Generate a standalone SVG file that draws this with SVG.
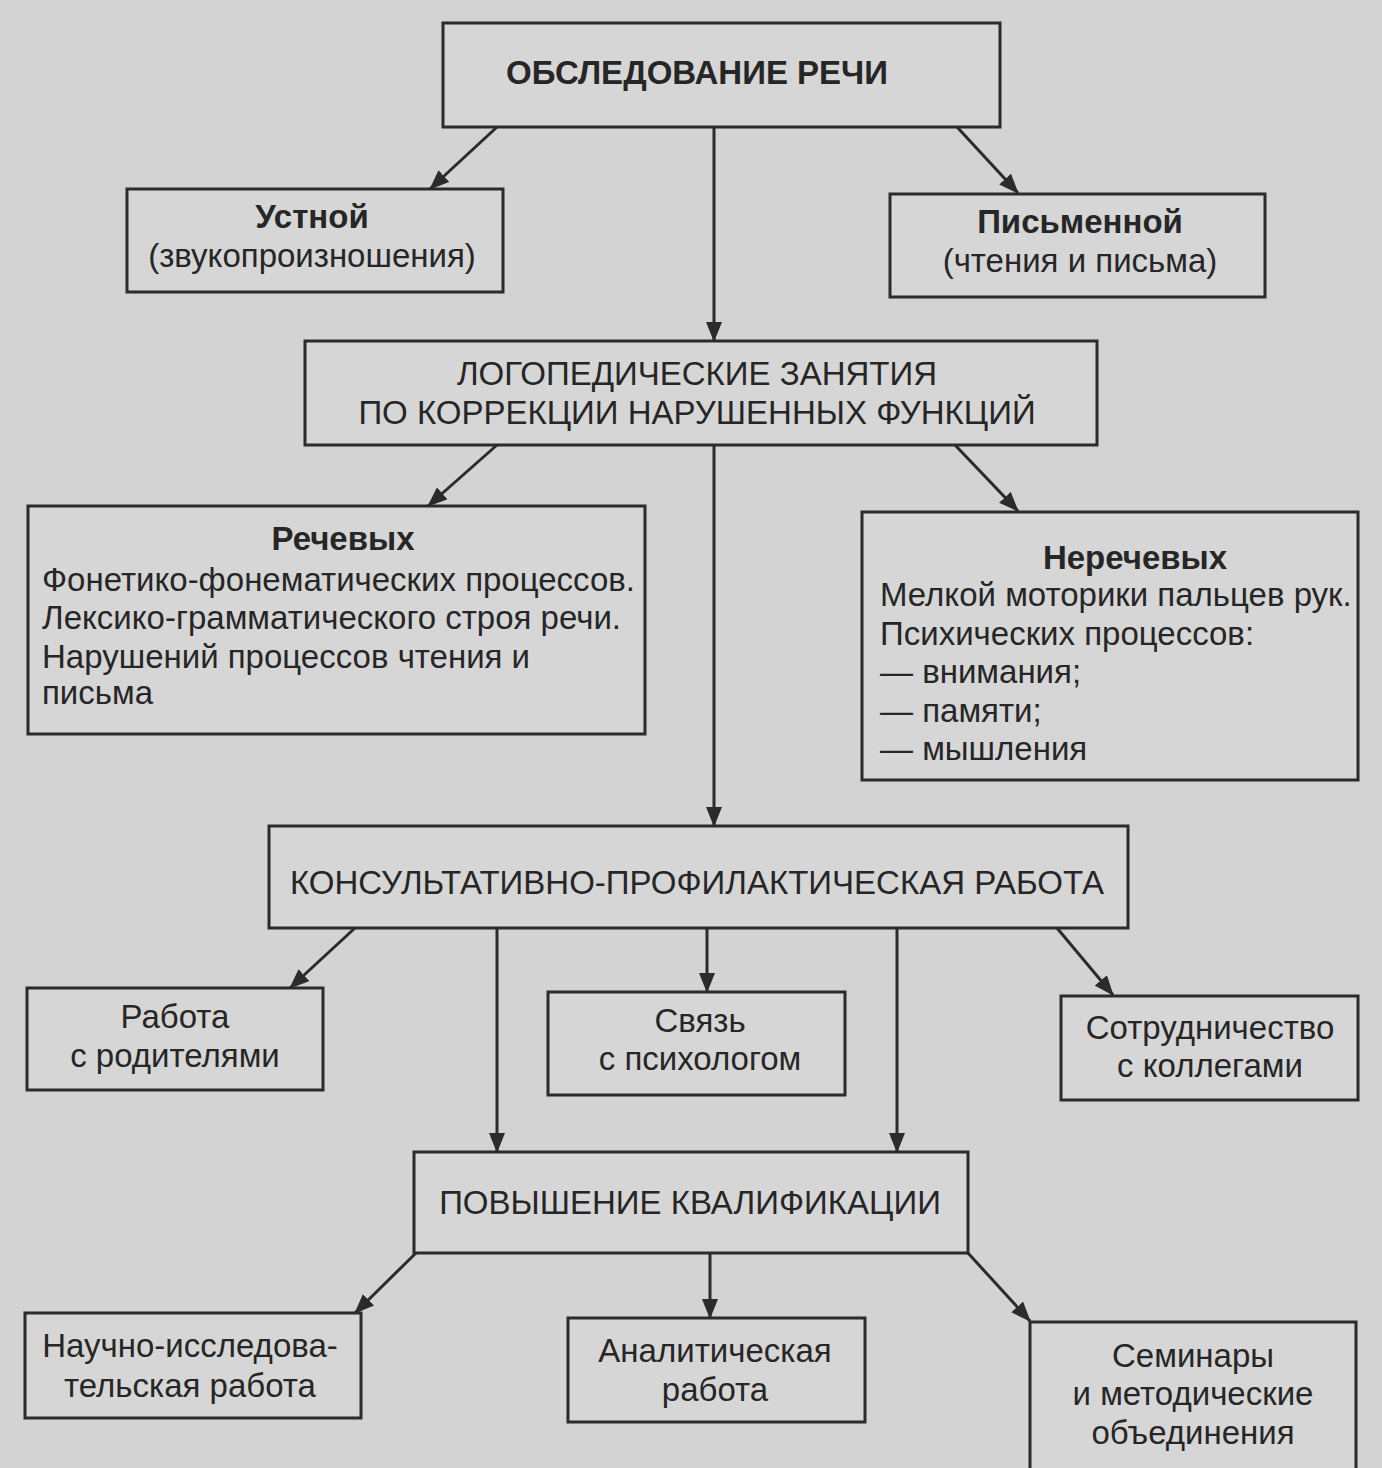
<svg xmlns="http://www.w3.org/2000/svg" width="1382" height="1468" viewBox="0 0 1382 1468">
<style>
.bg{fill:#d3d3d3}
.box{fill:#d6d6d6;stroke:#2b2b2b;stroke-width:3}
text{font-family:"Liberation Sans",Arial,sans-serif;font-size:33px;fill:#262626}
.c{text-anchor:middle}
.b{font-weight:bold}
.conn line{stroke:#2b2b2b;stroke-width:3}
</style>
<defs>
<marker id="ah" viewBox="0 0 20 16" refX="19" refY="8" markerWidth="20" markerHeight="16" markerUnits="userSpaceOnUse" orient="auto">
<path d="M0,0 L20,8 L0,16 Z" fill="#2b2b2b"/>
</marker>
</defs>
<rect class="bg" x="0" y="0" width="1382" height="1468"/>

<g id="n-obsl"><rect class="box" x="443" y="23" width="557" height="104"/><text class="c b" x="697" y="84">ОБСЛЕДОВАНИЕ РЕЧИ</text></g>
<g id="n-ustnoy"><rect class="box" x="127" y="189" width="376" height="103"/><text class="c b" x="312" y="228">Устной</text><text class="c" x="312" y="267">(звукопроизношения)</text></g>
<g id="n-pismennoy"><rect class="box" x="890" y="194" width="375" height="103"/><text class="c b" x="1080" y="233">Письменной</text><text class="c" x="1080" y="272">(чтения и письма)</text></g>
<g id="n-logoped"><rect class="box" x="305" y="341" width="792" height="104"/><text class="c" x="697" y="385">ЛОГОПЕДИЧЕСКИЕ ЗАНЯТИЯ</text><text class="c" x="697" y="424">ПО КОРРЕКЦИИ НАРУШЕННЫХ ФУНКЦИЙ</text></g>
<g id="n-rechevyh"><rect class="box" x="28" y="506" width="617" height="228"/><text class="c b" x="343" y="550">Речевых</text><text x="42" y="591">Фонетико-фонематических процессов.</text><text x="42" y="629">Лексико-грамматического строя речи.</text><text x="42" y="668">Нарушений процессов чтения и</text><text x="42" y="704">письма</text></g>
<g id="n-nerechevyh"><rect class="box" x="862" y="512" width="496" height="268"/><text class="c b" x="1135" y="569">Неречевых</text><text x="880" y="606">Мелкой моторики пальцев рук.</text><text x="880" y="645">Психических процессов:</text><text x="880" y="683">— внимания;</text><text x="880" y="722">— памяти;</text><text x="880" y="760">— мышления</text></g>
<g id="n-konsult"><rect class="box" x="269" y="826" width="859" height="102"/><text class="c" x="697" y="894">КОНСУЛЬТАТИВНО-ПРОФИЛАКТИЧЕСКАЯ РАБОТА</text></g>
<g id="n-roditeli"><rect class="box" x="27" y="988" width="296" height="102"/><text class="c" x="175" y="1028">Работа</text><text class="c" x="175" y="1067">с родителями</text></g>
<g id="n-psiholog"><rect class="box" x="548" y="992" width="297" height="103"/><text class="c" x="700" y="1032">Связь</text><text class="c" x="700" y="1070">с психологом</text></g>
<g id="n-kollegi"><rect class="box" x="1061" y="996" width="297" height="104"/><text class="c" x="1210" y="1039">Сотрудничество</text><text class="c" x="1210" y="1077">с коллегами</text></g>
<g id="n-povyshenie"><rect class="box" x="414" y="1152" width="554" height="101"/><text class="c" x="690" y="1214">ПОВЫШЕНИЕ КВАЛИФИКАЦИИ</text></g>
<g id="n-nauchno"><rect class="box" x="25" y="1313" width="336" height="105"/><text class="c" x="190" y="1357">Научно-исследова-</text><text class="c" x="190" y="1397">тельская работа</text></g>
<g id="n-analit"><rect class="box" x="568" y="1318" width="297" height="104"/><text class="c" x="715" y="1362">Аналитическая</text><text class="c" x="715" y="1401">работа</text></g>
<g id="n-seminary"><rect class="box" x="1030" y="1322" width="326" height="150"/><text class="c" x="1193" y="1367">Семинары</text><text class="c" x="1193" y="1405">и методические</text><text class="c" x="1193" y="1444">объединения</text></g>

<g class="conn">
<line x1="497" y1="127" x2="430" y2="189" marker-end="url(#ah)"/>
<line x1="957" y1="127" x2="1018" y2="193" marker-end="url(#ah)"/>
<line x1="714" y1="127" x2="714" y2="341" marker-end="url(#ah)"/>
<line x1="497" y1="445" x2="428" y2="506" marker-end="url(#ah)"/>
<line x1="955" y1="445" x2="1018" y2="511" marker-end="url(#ah)"/>
<line x1="714" y1="445" x2="714" y2="826" marker-end="url(#ah)"/>
<line x1="355" y1="928" x2="290" y2="988" marker-end="url(#ah)"/>
<line x1="707" y1="928" x2="707" y2="992" marker-end="url(#ah)"/>
<line x1="1057" y1="928" x2="1113" y2="995" marker-end="url(#ah)"/>
<line x1="497" y1="928" x2="497" y2="1152" marker-end="url(#ah)"/>
<line x1="897" y1="928" x2="897" y2="1152" marker-end="url(#ah)"/>
<line x1="416" y1="1253" x2="355" y2="1313" marker-end="url(#ah)"/>
<line x1="710" y1="1253" x2="710" y2="1318" marker-end="url(#ah)"/>
<line x1="968" y1="1253" x2="1030" y2="1321" marker-end="url(#ah)"/>
</g>
</svg>
